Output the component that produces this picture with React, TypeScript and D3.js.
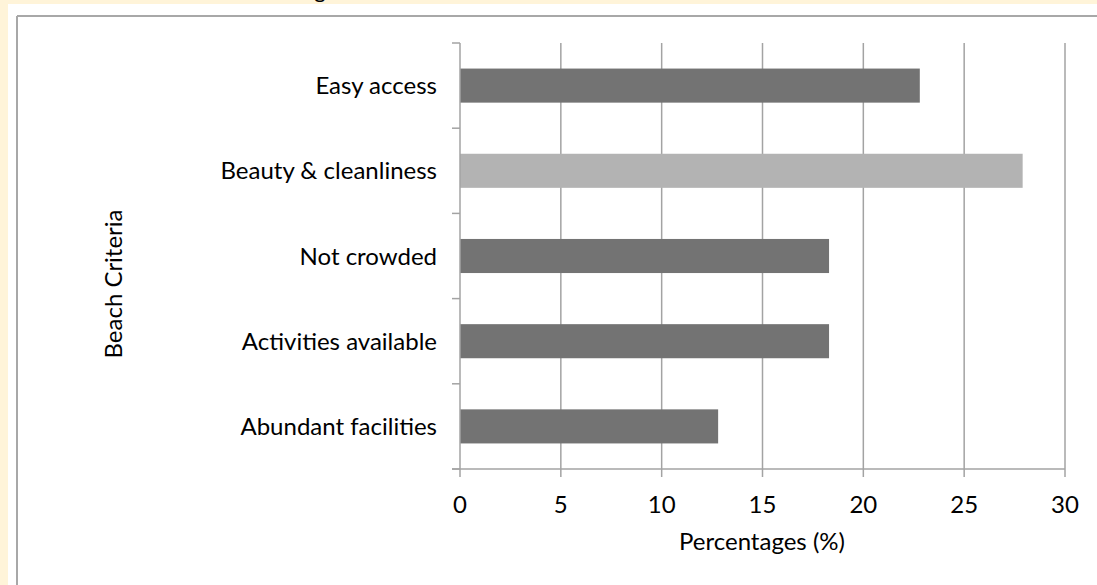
import React from "react";
import * as d3 from "d3";

const categories = [
  "Easy access",
  "Beauty & cleanliness",
  "Not crowded",
  "Activities available",
  "Abundant facilities",
];
const values = [22.8, 27.9, 18.3, 18.3, 12.8];
const highlighted = [false, true, false, false, false];
const xTicks = [0, 5, 10, 15, 20, 25, 30];
const xTitle = "Percentages (%)";
const yTitle = "Beach Criteria";

const W = 1097;
const H = 585;
const FONT = "Lato, 'Open Sans', sans-serif";
const FS = 24;

export default function App() {
  const left = 460;
  const right = 1065;
  const top = 43;
  const bottom = 469;
  const x = d3.scaleLinear().domain([0, 30]).range([left, right]);
  const y = d3
    .scaleBand<string>()
    .domain(categories)
    .range([top, bottom])
    .paddingInner(0.6)
    .paddingOuter(0.3);
  const step = y.step();
  const boundaries = d3.range(categories.length + 1).map((i) => top + i * step);
  const grid = "#a3a3a3";

  return (
    <div style={{ position: "absolute", left: 0, top: 0 }}>
      <svg width={W} height={H} style={{ display: "block" }}>
        <rect x={0} y={0} width={W} height={H} fill="#fff4d9" />
        <rect x={8} y={4} width={W - 8} height={H - 4} fill="#ffffff" />
        <text x={320} y={-2} fontFamily={FONT} fontSize={22} textAnchor="middle" fill="#000">g</text>
        <line x1={17} y1={16} x2={W} y2={16} stroke="#a8a8a8" strokeWidth={2} />
        <line x1={17} y1={16} x2={17} y2={H} stroke="#a8a8a8" strokeWidth={2} />
        <rect x={18} y={17} width={W - 18} height={H - 17} fill="#ffffff" />

        {xTicks.slice(1).map((t) => (
          <line key={"g" + t} x1={x(t)} x2={x(t)} y1={top} y2={bottom} stroke={grid} strokeWidth={1.5} />
        ))}
        {categories.map((c, i) => (
          <rect
            key={c}
            x={x(0)}
            y={y(c)}
            width={x(values[i]) - x(0)}
            height={y.bandwidth()}
            fill={highlighted[i] ? "#b3b3b3" : "#737373"}
          />
        ))}
        <line x1={left} x2={left} y1={top} y2={bottom} stroke={grid} strokeWidth={1.5} />
        <line x1={left - 8} x2={right} y1={bottom} y2={bottom} stroke={grid} strokeWidth={1.5} />
        {boundaries.map((b, i) => (
          <line key={"yt" + i} x1={left - 8} x2={left} y1={b} y2={b} stroke={grid} strokeWidth={1.5} />
        ))}
        {xTicks.map((t) => (
          <line key={"xt" + t} x1={x(t)} x2={x(t)} y1={bottom} y2={bottom + 8} stroke={grid} strokeWidth={1.5} />
        ))}
        {categories.map((c) => (
          <text
            key={"l" + c}
            x={437}
            y={(y(c) as number) + y.bandwidth() / 2 + 8.5}
            textAnchor="end"
            fontFamily={FONT}
            fontSize={FS}
            fill="#000"
          >
            {c}
          </text>
        ))}
        {xTicks.map((t) => (
          <text key={"xl" + t} x={x(t)} y={513} textAnchor="middle" fontFamily={FONT} fontSize={FS} fill="#000">
            {t}
          </text>
        ))}
        <text x={762} y={550} textAnchor="middle" fontFamily={FONT} fontSize={FS} fill="#000">
          {xTitle}
        </text>
        <text
          transform={`translate(122, 284) rotate(-90)`}
          textAnchor="middle"
          fontFamily={FONT}
          fontSize={FS}
          fill="#000"
        >
          {yTitle}
        </text>
      </svg>
    </div>
  );
}
